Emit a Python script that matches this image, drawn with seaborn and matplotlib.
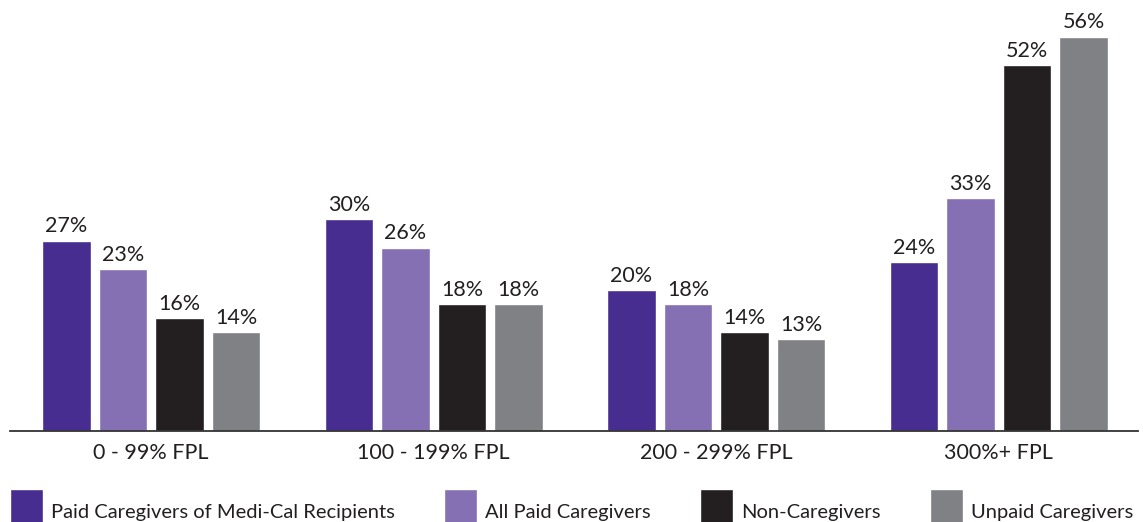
import matplotlib
matplotlib.use("Agg")
import matplotlib.pyplot as plt
import seaborn as sns
import pandas as pd

# income groups along the x axis
groups = ["0 - 99% FPL", "100 - 199% FPL", "200 - 299% FPL", "300%+ FPL"]

# share (%) in each income group, one list per series
medi_cal_paid = [27, 30, 20, 24]
all_paid = [23, 26, 18, 33]
non_caregivers = [16, 18, 14, 52]
unpaid = [14, 18, 13, 56]

series_names = [
    "Paid Caregivers of Medi-Cal Recipients",
    "All Paid Caregivers",
    "Non-Caregivers",
    "Unpaid Caregivers",
]
series_colors = ["#472D8F", "#8470B3", "#231F20", "#808184"]

# long format for seaborn
rows = []
for name, vals in zip(series_names, [medi_cal_paid, all_paid, non_caregivers, unpaid]):
    for g, v in zip(groups, vals):
        rows.append({"group": g, "series": name, "pct": v})
df = pd.DataFrame(rows)

sns.set_style("white")
plt.rcParams["font.family"] = ["Lato", "DejaVu Sans"]
text_color = "#231F20"

fig = plt.figure(figsize=(11.43, 5.22), dpi=100)
ax = fig.add_axes([10 / 1143, 91.5 / 522, 1128 / 1143, 430.5 / 522])

sns.barplot(
    data=df, x="group", y="pct", hue="series",
    order=groups, hue_order=series_names,
    palette=series_colors, saturation=1,
    width=0.8, gap=0.14, ax=ax, legend=True,
)

for cont in ax.containers:
    ax.bar_label(cont, fmt="%d%%", padding=3, fontsize=15.5, color=text_color)

ax.set_xlim(-0.5, 3.493)
ax.set_ylim(0, 61.2)
ax.set_xlabel("")
ax.set_ylabel("")
ax.set_yticks([])
ax.tick_params(axis="x", length=0, pad=9, labelsize=15.5, labelcolor=text_color)
for side in ["top", "right", "left"]:
    ax.spines[side].set_visible(False)
ax.spines["bottom"].set_color("#333333")
ax.spines["bottom"].set_linewidth(1.3)

# legend across the bottom of the figure, squares run off the bottom edge
handles, labels = ax.get_legend_handles_labels()
ax.get_legend().remove()
fig.legend(
    handles, labels, loc="lower left",
    bbox_to_anchor=(10 / 1143, -13.4 / 522, 1123 / 1143, 0.1),
    mode="expand", ncol=4, frameon=False, fontsize=14.5,
    handlelength=1.64, handleheight=3.18, handletextpad=0.4,
    borderpad=0, borderaxespad=0, labelcolor=text_color,
)

fig.savefig("out.png", dpi=100)
